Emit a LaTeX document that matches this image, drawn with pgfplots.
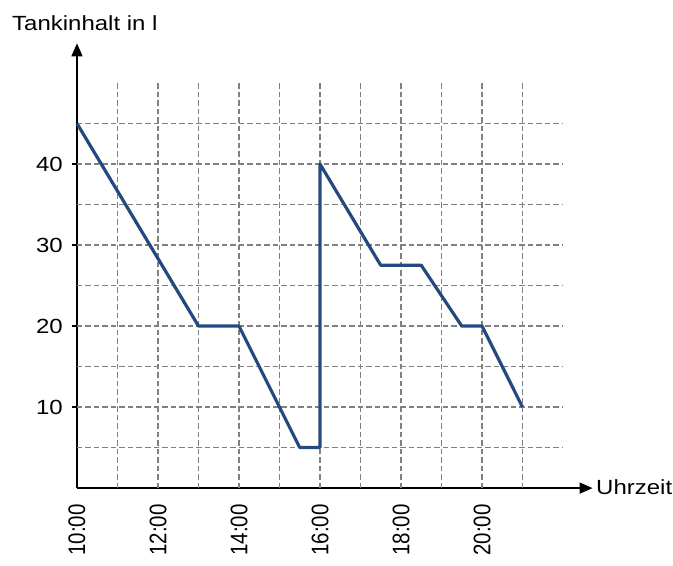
\documentclass[border=0pt]{standalone}
\usepackage{pgfplots}
\pgfplotsset{compat=1.18}
\usetikzlibrary{arrows.meta}
\usepackage{fontspec}
\setmainfont{Liberation Sans}
\newfontfamily\labfont{Liberation Sans}[FakeStretch=1.17]
\definecolor{lineblue}{HTML}{24497F}
\definecolor{gridgray}{HTML}{808080}
\begin{document}
\begin{tikzpicture}
\begin{axis}[
  scale only axis, width=515.5pt, height=444.7pt,
  xmin=10, xmax=22.73, ymin=0, ymax=54.9,
  axis x line=bottom, axis y line=left,
  axis line style={line width=1.5pt, -{Triangle[length=13pt,width=11pt]}},
  clip=false,
  /pgf/number format/assume math mode=true,
  ytick={10,20,30,40},
  yticklabels={10,20,30,40},
  xtick={10,12,14,16,18,20},
  xticklabels={\scalebox{1}[1.17]{10:00},\scalebox{1}[1.17]{12:00},\scalebox{1}[1.17]{14:00},\scalebox{1}[1.17]{16:00},\scalebox{1}[1.17]{18:00},\scalebox{1}[1.17]{20:00}},
  x tick label style={font=\fontsize{20.5}{24}\selectfont, yshift=-11pt, rotate=90, anchor=east, inner sep=0pt},
  y tick label style={font=\fontsize{20.5}{24}\selectfont\labfont, anchor=east, inner sep=0pt, xshift=-9pt},
  xtick style={draw=none},
  ytick style={black, line width=1.2pt},
  tick align=outside, major tick length=5pt,
]
\foreach \xx in {11,...,21} {
  \edef\temp{\noexpand\draw[gridgray, line width=1.8pt, dash pattern=on 5.5pt off 3pt] (axis cs:\xx,0) -- (axis cs:\xx,50);}
  \temp
}
\foreach \yy in {5,10,...,45} {
  \edef\temp{\noexpand\draw[gridgray, line width=1.8pt, dash pattern=on 5.5pt off 3pt] (axis cs:10,\yy) -- (axis cs:22,\yy);}
  \temp
}
\addplot[lineblue, line width=3.2pt, line join=round, mark=none] coordinates {
  (10,45) (13,20) (14,20) (15.5,5) (16,5) (16,40) (17.5,27.5) (18.5,27.5) (19.5,20) (20,20) (21,10)
};
\node[anchor=base west, inner sep=0pt, font=\fontsize{20.5}{24}\selectfont\labfont] at (axis cs:8.395,56.54) {Tankinhalt in l};
\node[anchor=base west, inner sep=0pt, font=\fontsize{20.5}{24}\selectfont\labfont] at (axis cs:22.815,-0.74) {Uhrzeit};
\path (axis cs:8.099,60.25) (axis cs:24.716,-9.506);
\end{axis}
\end{tikzpicture}
\end{document}
